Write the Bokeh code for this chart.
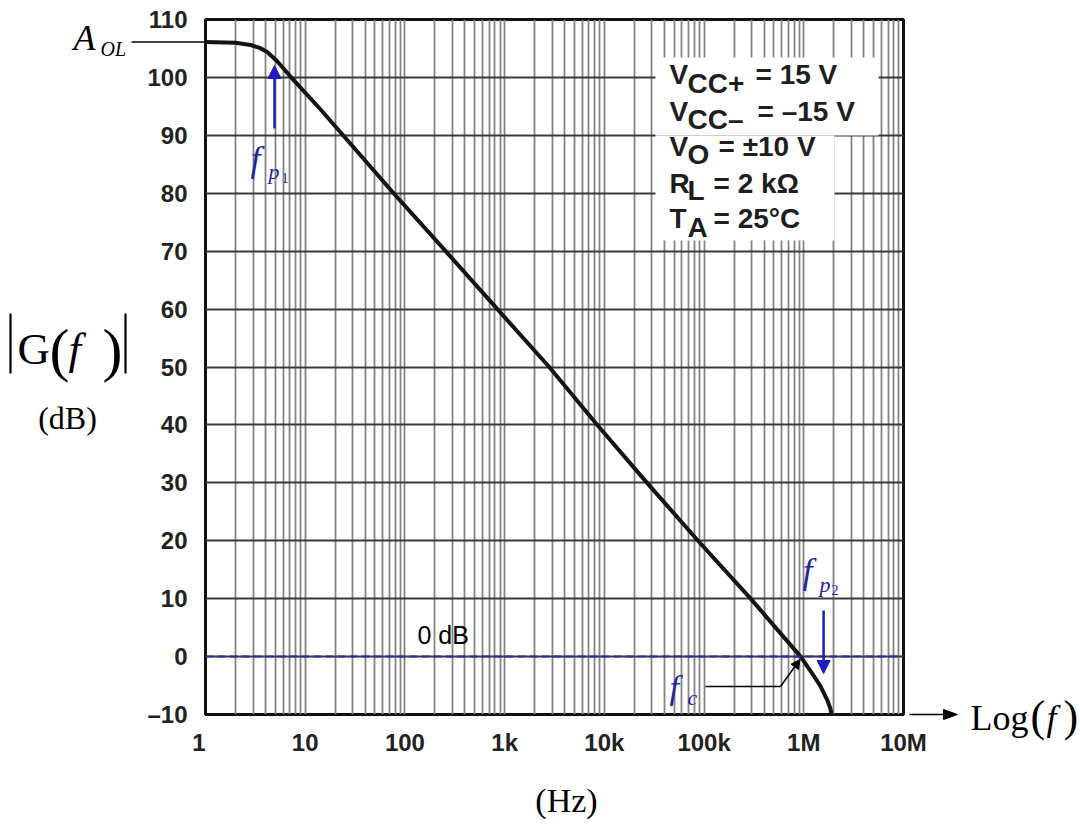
from bokeh.plotting import figure
from bokeh.models import Label, Arrow, NormalHead, Span, FixedTicker, Range1d
from bokeh.core.properties import value
from bokeh.embed import file_html
from bokeh.resources import INLINE

# ---------------- data ----------------
FREQ_HZ = [1.0, 2.0, 2.83, 3.5, 4.16, 5.24, 6.3, 7.7, 14.2, 77, 256, 846,
           2800, 8500, 26800, 87000, 293000, 930000, 1170000, 1460000,
           1720000, 1850000, 1900000]
GAIN_DB = [106.1, 106.0, 105.6, 105.1, 104.4, 102.8, 101.2, 99.5, 94.5, 80,
           70, 60, 50, 40, 30, 20, 10, 0, -2.5, -5, -7.5, -9, -10]

X_TICKS = [1, 10, 100, 1000, 10000, 100000, 1000000, 10000000]
X_TICK_LABELS = ["1\u00a0\u00a0", "10", "100", "1k", "10k", "100k", "1M",
                 "10M"]
Y_TICKS = [-10, 0, 10, 20, 30, 40, 50, 60, 70, 80, 90, 100, 110]
Y_TICK_LABELS = ["\u201310", "0", "10", "20", "30", "40", "50", "60", "70",
                 "80", "90", "100", "110"]

A_OL_DB = 106.1
FP1_HZ = 4.92
FP2_HZ = 1.58e6
FC_HZ = 0.93e6
ZERO_DB = 0

CONDITIONS = [("V", "CC+", "= 15 V"),
              ("V", "CC\u2013", "= \u201315 V"),
              ("V", "O", "= \u00b110 V"),
              ("R", "L", "= 2 k\u03a9"),
              ("T", "A", "= 25\u00b0C")]

# ---------------- layout helpers (canvas pixel -> data coords) -------------
FX0, FX1, FY0, FY1 = 205, 903, 19, 714
W, H = 1078, 826
BASE_K = 0.33   # baseline correction (fraction of font size)


def fx(px):
    return 10 ** ((px - FX0) * 7.0 / (FX1 - FX0))


def fy(py):
    return 110 - (py - FY0) * 120.0 / (FY1 - FY0)


BLUE_ARROW = "#1c1cc0"
BLUE_TEXT = "#24249c"
SERIF = "Liberation Serif"
SANS = "Liberation Sans"

p = figure(width=W, height=H, x_axis_type="log",
           x_range=Range1d(1, 1e7), y_range=Range1d(-10, 110),
           output_backend="svg", toolbar_location=None,
           min_border_left=FX0, min_border_right=W - FX1,
           min_border_top=FY0, min_border_bottom=H - FY1)

minor = [m * d for d in X_TICKS[:-1] for m in range(2, 10)]
p.xaxis.ticker = FixedTicker(ticks=X_TICKS, minor_ticks=minor)
p.yaxis.ticker = FixedTicker(ticks=Y_TICKS)
p.xaxis.major_label_overrides = dict(zip(X_TICKS, X_TICK_LABELS))
p.yaxis.major_label_overrides = dict(zip(Y_TICKS, Y_TICK_LABELS))

for ax in (p.xaxis, p.yaxis):
    ax.axis_line_color = None
    ax.major_tick_line_color = None
    ax.minor_tick_line_color = None
    ax.major_tick_out = 0
    ax.major_tick_in = 0
    ax.minor_tick_out = 0
    ax.minor_tick_in = 0
    ax.major_label_text_font = SANS
    ax.major_label_text_font_style = "bold"
    ax.major_label_text_font_size = "24px"
    ax.major_label_text_color = "#222222"
p.xaxis.major_label_standoff = 14
p.yaxis.major_label_standoff = 18

p.xgrid.grid_line_color = "#858585"
p.xgrid.grid_line_width = 1.8
p.xgrid.minor_grid_line_color = "#858585"
p.xgrid.minor_grid_line_width = 1.8
p.ygrid.grid_line_color = "#3a3a3a"
p.ygrid.grid_line_width = 2

p.outline_line_color = "#111111"
p.outline_line_width = 3
p.background_fill_color = "white"
p.border_fill_color = "white"

# white background behind the condition text
p.quad(left=[fx(655), fx(655)], right=[fx(878), fx(834)],
       bottom=[fy(135), fy(240)], top=[fy(57), fy(135)],
       fill_color="white", line_color=None)

# 0 dB dashed line
p.add_layout(Span(location=ZERO_DB, dimension="width", line_color="#2a2aa8",
                  line_width=2, line_dash="8 4"))

# main curve
p.line(FREQ_HZ, GAIN_DB, line_width=4, line_color="#141414",
       line_join="round")


def lab(text, px, py, size, font=SANS, style="normal", color="black",
        align="left"):
    """text inside the frame; py is the wanted baseline"""
    p.add_layout(Label(x=fx(px), y=fy(py - BASE_K * size), text=text,
                       text_font=font, text_font_style=style,
                       text_font_size=f"{size}px", text_color=color,
                       text_align=align, text_baseline="alphabetic"))


def otext(text, px, py, size, font=SERIF, style="normal", color="black",
          align="left"):
    """text outside the frame (overlay level, not clipped)"""
    p.text(x=[fx(px)], y=[fy(py - BASE_K * size)], text=[text],
           text_font=value(font), text_font_style=style,
           text_font_size=value(f"{size}px"), text_color=color,
           text_align=align, text_baseline="alphabetic", level="overlay")


def oseg(x0, y0, x1, y1, width=1.5, color="black"):
    p.segment(x0=[fx(x0)], y0=[fy(y0)], x1=[fx(x1)], y1=[fy(y1)],
              line_color=color, line_width=width, level="overlay")


# condition text
base = [83, 120, 155, 192, 227]
sub_dy = [9, 8, 8, 7, 9]
rest_x = [755, 757, 718, 713, 713]
for (m, s, r), b, d, rx in zip(CONDITIONS, base, sub_dy, rest_x):
    lab(m, 669, b, 28, style="bold", color="#1e1e1e")
    lab(s, 687, b + d, 28, style="bold", color="#1e1e1e")
    lab(r, rx, b, 28, style="bold", color="#1e1e1e")

# 0 dB label
lab("0 dB", 417, 643, 25)

# A_OL
p.segment(x0=[fx(131)], y0=[A_OL_DB], x1=[1], y1=[A_OL_DB],
          line_color="black", line_width=1.5, level="overlay")
otext("A", 73, 49, 36, style="italic")
otext("OL", 100, 55, 20, style="italic")

# fp1
p.add_layout(Arrow(x_start=FP1_HZ, y_start=fy(128), x_end=FP1_HZ,
                   y_end=fy(65), line_color=BLUE_ARROW, line_width=2.5,
                   end=NormalHead(size=13, fill_color=BLUE_ARROW,
                                  line_color=BLUE_ARROW)))
lab("f", 250, 170, 36, font=SERIF, style="italic", color=BLUE_TEXT)
lab("p", 268, 178, 22, font=SERIF, style="italic", color=BLUE_TEXT)
lab("1", 281, 182, 14, font=SERIF, color=BLUE_TEXT)

# fp2
p.add_layout(Arrow(x_start=FP2_HZ, y_start=fy(610), x_end=FP2_HZ,
                   y_end=fy(673), line_color=BLUE_ARROW, line_width=2.5,
                   end=NormalHead(size=13, fill_color=BLUE_ARROW,
                                  line_color=BLUE_ARROW)))
lab("f", 802, 582, 36, font=SERIF, style="italic", color=BLUE_TEXT)
lab("p", 819, 591, 22, font=SERIF, style="italic", color=BLUE_TEXT)
lab("2", 831, 594, 14, font=SERIF, color=BLUE_TEXT)

# fc
lab("f", 669, 698, 34, font=SERIF, style="italic", color=BLUE_TEXT)
lab("c", 687, 704, 22, font=SERIF, style="italic", color=BLUE_TEXT)
p.segment(x0=[fx(705)], y0=[fy(686)], x1=[fx(780)], y1=[fy(686)],
          line_color="black", line_width=1.5)
p.add_layout(Arrow(x_start=fx(780), y_start=fy(686), x_end=FC_HZ * 0.985,
                   y_end=ZERO_DB - 0.5, line_color="black", line_width=1.5,
                   end=NormalHead(size=9, fill_color="black",
                                  line_color="black")))

# Log(f) arrow and label
oseg(909, 714, 946, 714)
p.patch(x=[fx(943), fx(957), fx(943)], y=[fy(709), fy(714), fy(719)],
        fill_color="black", line_color="black", line_width=1,
        level="overlay")
otext("Log", 970, 729, 36)
otext("(", 1030, 731, 44)
otext("f", 1046, 729, 36, style="italic")
otext(")", 1063, 731, 44)

# (Hz)
otext("(Hz)", 566, 811, 34, align="center")

# |G(f)| and (dB)
oseg(10, 313, 10, 373, width=2.2)
oseg(125, 313, 125, 373, width=2.2)
otext("G", 17, 363, 45)
otext("(", 49, 369, 60)
otext("f", 68, 363, 45, style="italic")
otext(")", 102, 369, 60)
otext("(dB)", 67, 428, 32, align="center")

open("out.html", "w").write(file_html(p, INLINE))
